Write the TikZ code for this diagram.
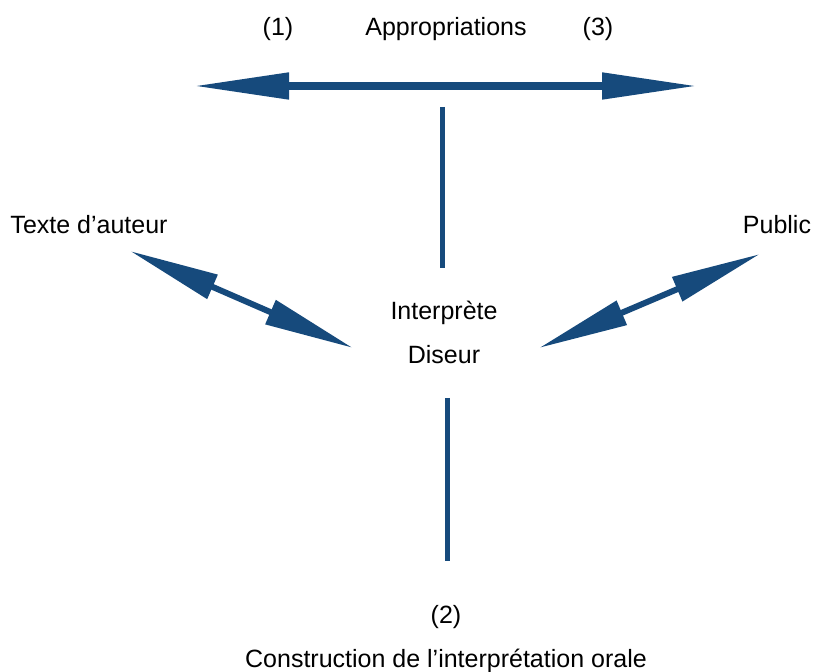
\documentclass[tikz,border=0pt]{standalone}
\usepackage{fontspec}
\setmainfont{Liberation Sans}
\usetikzlibrary{arrows.meta}
\definecolor{darkblue}{RGB}{22,74,124}

\begin{document}
\begin{tikzpicture}[x=0.5pt,y=-0.5pt]
\tikzset{
  every node/.style={inner sep=0pt, font=\fontsize{12.5pt}{15pt}\selectfont},
  bigarrow/.style={darkblue, line width=4pt, {Triangle[length=48pt,width=12.5pt]}-{Triangle[length=48pt,width=12.5pt]}},
  sidearrow/.style={darkblue, line width=3pt, {Triangle[length=45pt,width=12.5pt]}-{Triangle[length=45pt,width=12.5pt]}},
  stem/.style={darkblue, line width=2.5pt}
}
\useasboundingbox (0,0) rectangle (813,672);
% labels
\node (one) at (278,29) {(1)};
\node (appr) at (446,29) {Appropriations};
\node (three) at (598,29) {(3)};
\node (texte) at (89,225) {Texte d’auteur};
\node (public) at (777,225) {Public};
\node (interp) at (444,313) {Interprète};
\node (diseur) at (444,355) {Diseur};
\node (two) at (446,617) {(2)};
\node (constr) at (446,661) {Construction de l’interprétation orale};
% free ends
\coordinate (hl) at (193,86);
\coordinate (hr) at (698,86);
\coordinate (ut) at (442,107);
\coordinate (ub) at (442,268);
\coordinate (lt) at (447,398);
\coordinate (lb) at (447,561);
\coordinate (ta) at (130,251);
\coordinate (tb) at (353,348);
\coordinate (pa) at (539,348);
\coordinate (pb) at (760,254);
% connectors
\draw [bigarrow] (hl) -- (hr);
\draw [stem] (ut) -- (ub);
\draw [stem] (lt) -- (lb);
\draw [sidearrow] (ta) -- (tb);
\draw [sidearrow] (pa) -- (pb);
\end{tikzpicture}
\end{document}
